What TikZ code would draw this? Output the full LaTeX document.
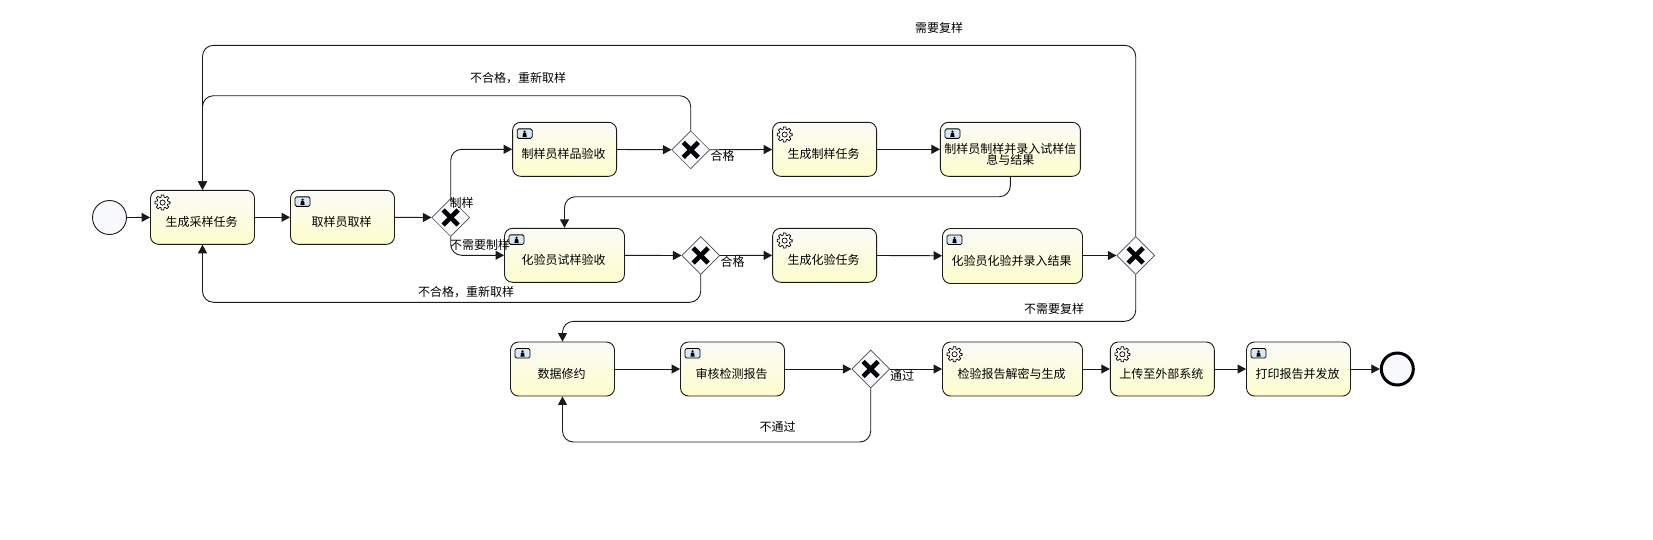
\documentclass[tikz,border=0pt]{standalone}
\usepackage{fontspec}
\setmainfont{Noto Sans CJK SC}
\usetikzlibrary{shapes.geometric, arrows.meta}
\definecolor{taskline}{HTML}{1A1A1A}
\definecolor{tasktop}{HTML}{FBFBF8}
\definecolor{taskbot}{HTML}{FDFDCB}
\definecolor{gwfill}{HTML}{F8F9FC}
\definecolor{iconblue}{HTML}{D5E8F5}
\tikzset{
  task/.style={draw=taskline, line width=0.9pt, rounded corners=8pt, top color=tasktop, bottom color=taskbot, minimum height=54pt, inner sep=0pt, align=center, text width=#1-2pt, minimum width=#1},
  task/.default=104pt,
  gateway/.style={diamond, draw=black!70, line width=0.6pt, fill=gwfill, minimum width=38pt, minimum height=38pt, inner sep=0pt},
  startev/.style={circle, draw=taskline, line width=0.9pt, fill=gwfill, minimum size=34pt, inner sep=0pt},
  endev/.style={circle, draw=black, line width=3pt, fill=gwfill, minimum size=32pt, inner sep=0pt},
  flow/.style={draw=taskline, line width=0.9pt, rounded corners=11pt, -{Triangle[length=8.5pt,width=9pt]}},
  lbl/.style={inner sep=0pt, font=\fontsize{12}{12}\selectfont},
  tasklbl/.style={font=\fontsize{12}{13}\selectfont, text height=22pt, text depth=3pt, execute at begin node={\hspace*{-2pt}}},
  twolbl/.style={font=\fontsize{12}{10.5}\selectfont, text height=12pt, text depth=3pt, execute at begin node={\lineskiplimit=-10pt}}
}
% gear and user marks, and the cross of a gateway
\newcommand{\gearmark}[1]{%
  \begin{scope}[shift={(#1.north west)}, shift={(12.5,12.7)}]
    \draw[line width=0.7pt, fill=white] (0:7.6)
      \foreach \a in {0,45,...,315} {
        -- (\a-9:7.6) -- (\a+9:7.6) -- (\a+17:5.4) -- (\a+28:5.4)
      } -- cycle;
    \draw[line width=0.7pt, fill=white] (0,0) circle (2.6);
  \end{scope}}
\newcommand{\usermark}[1]{%
  \begin{scope}[shift={(#1.north west)}, shift={(5,7)}]
    \draw[line width=0.8pt, rounded corners=1.5pt, fill=iconblue] (0,0) rectangle (15,9.5);
    \fill (7.5,2.8) circle (1.2);
    \fill (5.4,8) -- (6,4) -- (9,4) -- (9.6,8) -- cycle;
  \end{scope}}
\newcommand{\gwcross}[1]{%
  \draw[line width=4.6pt] ([shift={(-7.5,-7.5)}]#1.center) -- ([shift={(7.5,7.5)}]#1.center);
  \draw[line width=4.6pt] ([shift={(-7.5,7.5)}]#1.center) -- ([shift={(7.5,-7.5)}]#1.center);}
\begin{document}
\begin{tikzpicture}[x=1pt, y=-1pt]
\useasboundingbox (0,0) rectangle (1653,539);
% first row
\node[startev] (start) at (109.5,217.5) {};
\node[task, tasklbl] (genSample) at (202.5,217.3) {生成采样任务};
\node[task, tasklbl] (takeSample) at (342.5,217.3) {取样员取样};
\node[gateway] (gwMake) at (450.7,217.5) {};
\node[task, tasklbl] (makeCheck) at (564.6,149.3) {制样员样品验收};
\node[gateway] (gwMakeOk) at (690.7,149.8) {};
\node[task, tasklbl] (genMake) at (824.6,149.3) {生成制样任务};
\node[task=140pt, twolbl] (makeRecord) at (1010.4,149.3) {制样员制样并录入试样信\\息与结果};
% second row
\node[task=120pt, tasklbl] (labCheck) at (564.5,255.3) {化验员试样验收};
\node[gateway] (gwLabOk) at (700.7,255.5) {};
\node[task, tasklbl] (genLab) at (824.6,255.3) {生成化验任务};
\node[task=140pt, tasklbl, minimum height=55pt] (labRecord) at (1012.5,256) {化验员化验并录入结果};
\node[gateway] (gwRetest) at (1135.7,255.5) {};
% third row
\node[task, tasklbl] (dataFix) at (562.5,369) {数据修约};
\node[task, tasklbl] (review) at (732.5,369) {审核检测报告};
\node[gateway] (gwPass) at (870.7,369) {};
\node[task=140pt, tasklbl] (decrypt) at (1012.5,369) {检验报告解密与生成};
\node[task, tasklbl] (upload) at (1162.3,369) {上传至外部系统};
\node[task, tasklbl] (print) at (1298.5,369) {打印报告并发放};
\node[endev] (stop) at (1397.3,369) {};
% marks
\gearmark{genSample}
\gearmark{genMake}
\gearmark{genLab}
\gearmark{decrypt}
\gearmark{upload}
\usermark{takeSample}
\usermark{makeCheck}
\usermark{makeRecord}
\usermark{labCheck}
\usermark{labRecord}
\usermark{dataFix}
\usermark{review}
\usermark{print}
\gwcross{gwMake}
\gwcross{gwMakeOk}
\gwcross{gwLabOk}
\gwcross{gwRetest}
\gwcross{gwPass}
% straight flows
\draw[flow] (start) -- (genSample);
\draw[flow] (genSample) -- (takeSample);
\draw[flow] (takeSample) -- (gwMake);
\draw[flow] (makeCheck) -- (gwMakeOk);
\draw[flow] (gwMakeOk) -- (genMake);
\draw[flow] (genMake) -- (makeRecord);
\draw[flow] (labCheck) -- (gwLabOk);
\draw[flow] (gwLabOk) -- (genLab);
\draw[flow] (genLab) -- (labRecord);
\draw[flow] (labRecord.east |- gwRetest) -- (gwRetest);
\draw[flow] (dataFix) -- (review);
\draw[flow] (review) -- (gwPass);
\draw[flow] (gwPass) -- (decrypt);
\draw[flow] (decrypt) -- (upload);
\draw[flow] (upload) -- (print);
\draw[flow] (print) -- (stop);
% elbows and loops
\draw[flow] (gwMake.north) |- (makeCheck.west);
\draw[flow] (gwMake.south) |- (labCheck.west);
\draw[flow] (gwMakeOk.north) -- (gwMakeOk.north |- 0,95.7) -- (genSample.north |- 0,95.7) -- (genSample.north);
\draw[flow] (gwRetest.north) -- (gwRetest.north |- 0,45.3) -- (genSample.north |- 0,45.3) -- (genSample.north);
\draw[flow] (makeRecord.south) -- (makeRecord.south |- 0,196.7) -- (labCheck.north |- 0,196.7) -- (labCheck.north);
\draw[flow] (gwLabOk.south) -- (gwLabOk.south |- 0,302.3) -- (genSample.south |- 0,302.3) -- (genSample.south);
\draw[flow] (gwRetest.south) -- (gwRetest.south |- 0,321.3) -- (dataFix.north |- 0,321.3) -- (dataFix.north);
\draw[flow] (gwPass.south) -- (gwPass.south |- 0,442) -- (dataFix.south |- 0,442) -- (dataFix.south);
% flow labels
\node[lbl] (lblRetest) at (939,28) {需要复样};
\node[lbl] (lblBackA) at (518,77.7) {不合格，重新取样};
\node[lbl] (lblMake) at (461.5,203) {制样};
\node[lbl] (lblNoMake) at (480,245) {不需要制样};
\node[lbl] (lblOkA) at (722.6,156) {合格};
\node[lbl] (lblOkB) at (732.7,262) {合格};
\node[lbl] (lblBackB) at (466,292) {不合格，重新取样};
\node[lbl] (lblNoRetest) at (1054,309) {不需要复样};
\node[lbl] (lblPass) at (902,376) {通过};
\node[lbl] (lblFail) at (777.5,427) {不通过};
\end{tikzpicture}
\end{document}
